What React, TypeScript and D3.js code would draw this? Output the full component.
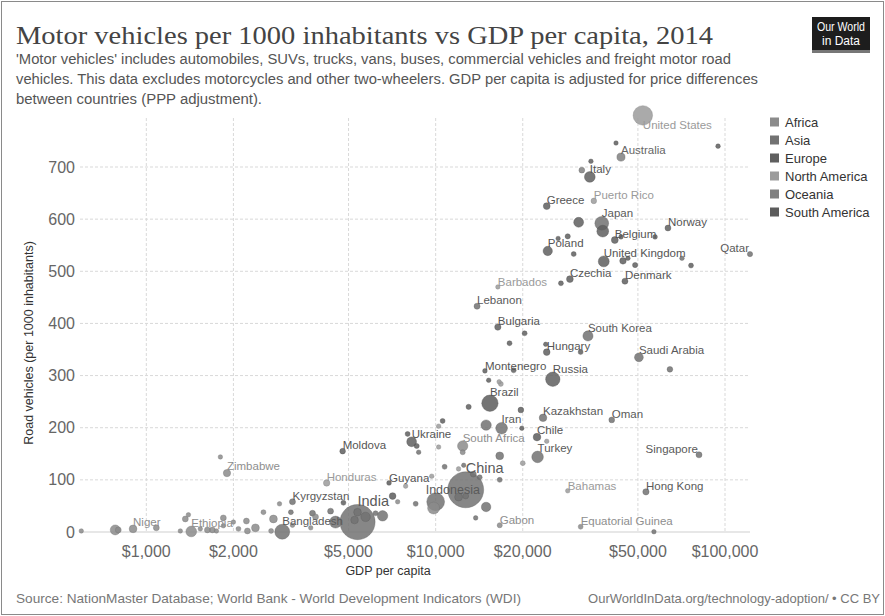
import React from 'react';
import * as d3 from 'd3';

const W = 885;
const H = 616;

const regions = ['Africa', 'Asia', 'Europe', 'North America', 'Oceania', 'South America'];
const regionFill = ['#8b8b8b', '#727272', '#5f5f5f', '#9b9b9b', '#808080', '#5c5c5c'];
const regionText = ['#8e8e8e', '#5a5a5a', '#555555', '#9a9a9a', '#666666', '#555555'];

// 0 Africa, 1 Asia, 2 Europe, 3 North America, 4 Oceania, 5 South America
const countryNames = [
  'United States', 'Australia', 'Italy', 'Puerto Rico', 'Greece', 'Japan', 'Belgium', 'Norway', 'Qatar', 'Poland',
  'United Kingdom', 'Czechia', 'Denmark', 'Barbados', 'Lebanon', 'Bulgaria', 'South Korea', 'Hungary', 'Saudi Arabia', 'Montenegro',
  'Russia', 'Brazil', 'Kazakhstan', 'Oman', 'Iran', 'Chile', 'Ukraine', 'South Africa', 'Moldova', 'Singapore',
  'Turkey', 'China', 'Indonesia', 'India', 'Guyana', 'Honduras', 'Kyrgyzstan', 'Bangladesh', 'Zimbabwe', 'Ethiopia',
  'Niger', 'Gabon', 'Equatorial Guinea', 'Bahamas', 'Hong Kong',
  'u1', 'u2', 'u3', 'u4', 'u5', 'u6', 'u7', 'u8', 'u9', 'u10',
  'u11', 'u12', 'u13', 'u14', 'u15', 'u16', 'u17', 'u18', 'u19', 'u20',
  'u21', 'u22', 'u23', 'u24', 'u25', 'u26', 'u27', 'u28', 'u29', 'u30',
  'u31', 'u32', 'u33', 'u34', 'u35', 'u36', 'u37', 'u38', 'u39', 'u40',
  'u41', 'u42', 'u43', 'u44', 'u45', 'u46', 'u47', 'u48', 'u49', 'u50',
  'u51', 'u52', 'u53', 'u54', 'u55', 'u56', 'u57', 'u58', 'u59', 'u60',
  'u61', 'u62', 'u63', 'u64', 'u65', 'u66', 'u67', 'u68', 'u69', 'u70',
  'u71', 'u72', 'u73', 'u74', 'u75', 'u76', 'u77', 'u78', 'u79', 'u80',
  'u81', 'u82', 'u83', 'u84', 'u85', 'u86', 'u87', 'u88', 'u89', 'u90',
  'u91', 'u92', 'u93',
];

const countryRegions = [
  3, 4, 2, 3, 2, 1, 2, 2, 1, 2,
  2, 2, 2, 3, 1, 2, 1, 2, 1, 2,
  2, 5, 1, 1, 1, 5, 2, 0, 2, 1,
  1, 1, 1, 1, 5, 3, 1, 1, 0, 0,
  0, 0, 0, 3, 1,
  2, 2, 2, 4, 2, 2, 2, 2, 2, 2,
  2, 2, 2, 2, 1, 2, 2, 2, 2, 2,
  2, 1, 2, 3, 3, 2, 2, 1, 2, 2,
  3, 3, 2, 2, 1, 0, 1, 3, 1, 3,
  1, 1, 1, 1, 1, 1, 3, 3, 5, 0,
  1, 0, 1, 1, 1, 1, 1, 1, 1, 2,
  1, 1, 1, 1, 0, 0, 0, 0, 0, 0,
  0, 0, 0, 0, 0, 0, 0, 0, 0, 0,
  0, 0, 0, 0, 0, 0, 0, 0, 0, 0,
  1, 3, 2,
];

const gdpPerCapita = [
  52000, 43700, 34100, 35200, 24200, 37500, 41600, 63500, 122000, 24400,
  38100, 29100, 45100, 16400, 13900, 16400, 33600, 24200, 50400, 14800,
  25400, 15400, 23500, 40600, 16900, 22400, 8260, 12400, 4770, 81300,
  22500, 12700, 10000, 5370, 6900, 4200, 3200, 2950, 1900, 1430,
  900, 16650, 31700, 28600, 53300,
  42000, 94600, 34400, 32000, 31200, 37800, 28600, 43700, 57300, 26500,
  30000, 44400, 46200, 48900, 71000, 76300, 27100, 20300, 18000, 24000,
  31700, 64500, 15250, 16570, 16800, 13000, 19700, 14940, 19850, 10570,
  10240, 24200, 8000, 8600, 8735, 12400, 16650, 20000, 10740, 12000,
  12500, 13500, 14200, 16650, 14940, 13750, 9690, 7875, 7100, 7390,
  8530, 9840, 12000, 12700, 6555, 6200, 5370, 5245, 5726, 4800,
  4333, 4508, 3753, 3160, 2886, 2540, 2750, 3700, 2383, 2700,
  2236, 2218, 2082, 2000, 1803, 1846, 1846, 1747, 1692, 1626,
  1537, 1364, 1398, 1311, 1083, 781, 800, 596, 3200, 3845,
  56800, 10240, 18600,
];

const vehiclesPer1000 = [
  799, 719, 681, 635, 625, 592, 560, 583, 533, 539,
  519, 485, 481, 470, 433, 393, 376, 345, 335, 309,
  293, 247, 219, 215, 199, 182, 173, 165, 155, 148,
  144, 81, 58, 19, 94, 94, 58, 0.5, 113, 1,
  6, 13, 10, 79, 77,
  746, 740, 711, 694, 594, 577, 567, 566, 566, 563,
  533, 520, 525, 512, 525, 511, 477, 381, 362, 360,
  345, 312, 291, 288, 284, 240, 234, 205, 199, 213,
  203, 174, 188, 165, 153, 153, 146, 132, 125, 121,
  128, 111, 105, 100, 48, 27, 107, 88, 69, 58,
  54, 46, 67, 69, 31, 36, 38, 23, 29, 56,
  40, 19, 36, 38, 54, 38, 25, 8, 8, 2,
  2, 21, 6, 19, 144, 27, 12, 2, 4, 4,
  6, 25, 33, 2, 8, 4, 4, 2, 13, 29,
  0.5, 163, 310,
];

const populationMillions = [
  319, 23.5, 60.8, 3.5, 10.9, 127, 11.2, 5.1, 2.2, 38,
  64.6, 10.5, 5.6, 0.28, 5.6, 7.2, 50.4, 9.9, 30.9, 0.62,
  144, 204, 17.3, 4.2, 78, 17.8, 45, 54, 3.6, 5.5,
  77, 1364, 255, 1295, 0.76, 8, 5.8, 159, 15, 60,
  19, 1.7, 1.1, 0.38, 7.2,
  0.33, 0.55, 0.43, 4.5, 46, 81, 2, 0.5, 0.8, 0.3,
  1.3, 8.5, 0.3, 2, 0.4, 1.3, 1.3, 1.3, 1.3, 0.3,
  1.3, 3.8, 0.5, 0.4, 1.3, 2, 4, 55, 0.3, 1.3,
  0.4, 0.4, 1.3, 1.5, 0.5, 1.5, 20, 1.3, 1.3, 0.5,
  0.3, 5, 1.3, 1.3, 40, 0.5, 0.5, 0.5, 10, 0.4,
  1.3, 85, 20, 5, 55, 1.3, 18, 18, 40, 1.3,
  5, 85, 5, 1.3, 0.4, 1.3, 20, 0.4, 20, 1.3,
  5, 5, 1.3, 0.4, 0.4, 5, 0.4, 0.4, 5, 5,
  0.4, 5, 0.4, 0.4, 5, 48, 5, 0.4, 0.4, 5,
  0.4, 0.4, 1.3,
];

const labelledCountries = [
  'United States', 'Australia', 'Italy', 'Puerto Rico', 'Greece', 'Japan', 'Belgium', 'Norway', 'Qatar', 'Poland',
  'United Kingdom', 'Czechia', 'Denmark', 'Barbados', 'Lebanon', 'Bulgaria', 'South Korea', 'Hungary', 'Saudi Arabia', 'Montenegro',
  'Russia', 'Brazil', 'Kazakhstan', 'Oman', 'Iran', 'Chile', 'Ukraine', 'South Africa', 'Moldova', 'Singapore',
  'Turkey', 'China', 'Indonesia', 'India', 'Guyana', 'Honduras', 'Kyrgyzstan', 'Bangladesh', 'Zimbabwe', 'Ethiopia',
  'Niger', 'Gabon', 'Equatorial Guinea', 'Bahamas', 'Hong Kong',
];

const xTickValues = [1000, 2000, 5000, 10000, 20000, 50000, 100000];
const yTickValues = [0, 100, 200, 300, 400, 500, 600, 700];

const titleText = 'Motor vehicles per 1000 inhabitants vs GDP per capita, 2014';
const subtitleLines = [
  "'Motor vehicles' includes automobiles, SUVs, trucks, vans, buses, commercial vehicles and freight motor road",
  'vehicles. This data excludes motorcycles and other two-wheelers. GDP per capita is adjusted for price differences',
  'between countries (PPP adjustment).',
];
const sourceText = 'Source: NationMaster Database; World Bank - World Development Indicators (WDI)';
const urlText = 'OurWorldInData.org/technology-adoption/ • CC BY';

// layout-only label tweaks
const labelTweaks: Record<string, { anchor?: string; below?: boolean; size?: number; dx?: number }> = {
  'United States': { below: true },
  Qatar: { anchor: 'end' },
  Singapore: { anchor: 'end' },
  China: { size: 14.5 },
  India: { size: 14.5 },
  Indonesia: { size: 12.5, dx: -10 },
};

const SANS = '"Liberation Sans", Arial, Helvetica, sans-serif';

export default function App() {
  const left = 80, right = 750, top = 118, bottom = 532;
  const x = d3.scaleLog().domain([590, 122000]).range([left, right]);
  const y = d3.scaleLinear().domain([0, 794]).range([bottom, top]);
  const r = d3.scaleSqrt().domain([0, 1364]).range([2, 18]);
  const fmt = d3.format('$,');

  const points = countryNames.map((name, i) => ({
    name,
    region: countryRegions[i],
    cx: x(gdpPerCapita[i]),
    cy: y(vehiclesPer1000[i]),
    rad: r(populationMillions[i]),
  }));
  const drawOrder = [...points].sort((a, b) => b.rad - a.rad);

  return (
    <svg width={W} height={H} style={{ position: 'absolute', left: 0, top: 0, background: '#fff' }} fontFamily={SANS}>
      <rect x={0} y={0} width={W} height={H} fill="#fff" />
      <rect x={1.5} y={1.5} width={W - 3} height={H - 3} fill="none" stroke="#8a8a8a" strokeWidth={1} />

      <text x={16} y={44} fontFamily='"Liberation Serif", "DejaVu Serif", serif' fontSize={26} fill="#444" textLength={697} lengthAdjust="spacingAndGlyphs">
        {titleText}
      </text>
      {subtitleLines.map((t, i) => (
        <text key={i} x={16} y={64 + i * 20} fontSize={14} fill="#555"
          textLength={i === 0 ? 715 : i === 1 ? 742 : 246} lengthAdjust="spacingAndGlyphs">
          {t}
        </text>
      ))}

      <g>
        <rect x={812} y={17} width={58} height={35} fill="#1d1d1d" />
        <rect x={812} y={50} width={58} height={3} fill="#777" />
        <text x={841} y={31} textAnchor="middle" fontSize={12} fill="#fff" textLength={48} lengthAdjust="spacingAndGlyphs">Our World</text>
        <text x={841} y={45} textAnchor="middle" fontSize={12} fill="#fff">in Data</text>
      </g>

      {/* grid */}
      {xTickValues.map((v) => (
        <line key={'gx' + v} x1={x(v)} x2={x(v)} y1={top} y2={bottom} stroke="#d9d9d9" strokeDasharray="3,2" />
      ))}
      {yTickValues.filter((v) => v > 0).map((v) => (
        <line key={'gy' + v} x1={left} x2={right} y1={y(v)} y2={y(v)} stroke="#d9d9d9" strokeDasharray="3,2" />
      ))}
      <line x1={left} x2={right} y1={y(0)} y2={y(0)} stroke="#cfcfcf" strokeWidth={1} />

      {yTickValues.map((v) => (
        <text key={'ty' + v} x={75} y={y(v) + 5.5} textAnchor="end" fontSize={16} fill="#666">{v}</text>
      ))}
      {xTickValues.map((v) => (
        <text key={'tx' + v} x={x(v)} y={557} textAnchor="middle" fontSize={16} fill="#666">{fmt(v)}</text>
      ))}

      <text x={388} y={575} textAnchor="middle" fontSize={12.5} fill="#333">GDP per capita</text>
      <text transform="translate(33,343) rotate(-90)" textAnchor="middle" fontSize={12.5} fill="#333">
        Road vehicles (per 1000 inhabitants)
      </text>

      {/* points */}
      {drawOrder.map((p, i) => (
        <circle key={'c' + i} cx={p.cx} cy={p.cy} r={p.rad} fill={regionFill[p.region]} fillOpacity={0.85}
          stroke={d3.color(regionFill[p.region])!.darker(0.6).formatHex()} strokeWidth={0.5} strokeOpacity={0.7} />
      ))}

      {/* labels */}
      {points.filter((p) => labelledCountries.includes(p.name)).map((p) => {
        const t = labelTweaks[p.name] || {};
        const ly = t.below ? p.cy + p.rad + 4 : p.cy - p.rad + 1;
        const lx = p.cx + (t.dx || 0) + (t.anchor === 'end' ? -1 : 0);
        return (
          <text key={'l' + p.name} x={lx} y={ly} fontSize={t.size || 11.5} textAnchor={t.anchor || 'start'}
            fill={regionText[p.region]}>
            {p.name}
          </text>
        );
      })}

      {/* legend */}
      {regions.map((name, i) => (
        <g key={name} transform={`translate(770, ${122 + i * 18})`}>
          <rect x={0} y={-4.5} width={9} height={9} fill={regionFill[i]} />
          <text x={15} y={4.5} fontSize={13} fill="#333">{name}</text>
        </g>
      ))}

      <text x={16} y={603} fontSize={13} fill="#777" textLength={505} lengthAdjust="spacingAndGlyphs">{sourceText}</text>
      <text x={880} y={603} fontSize={13} fill="#777" textAnchor="end">{urlText}</text>
    </svg>
  );
}
